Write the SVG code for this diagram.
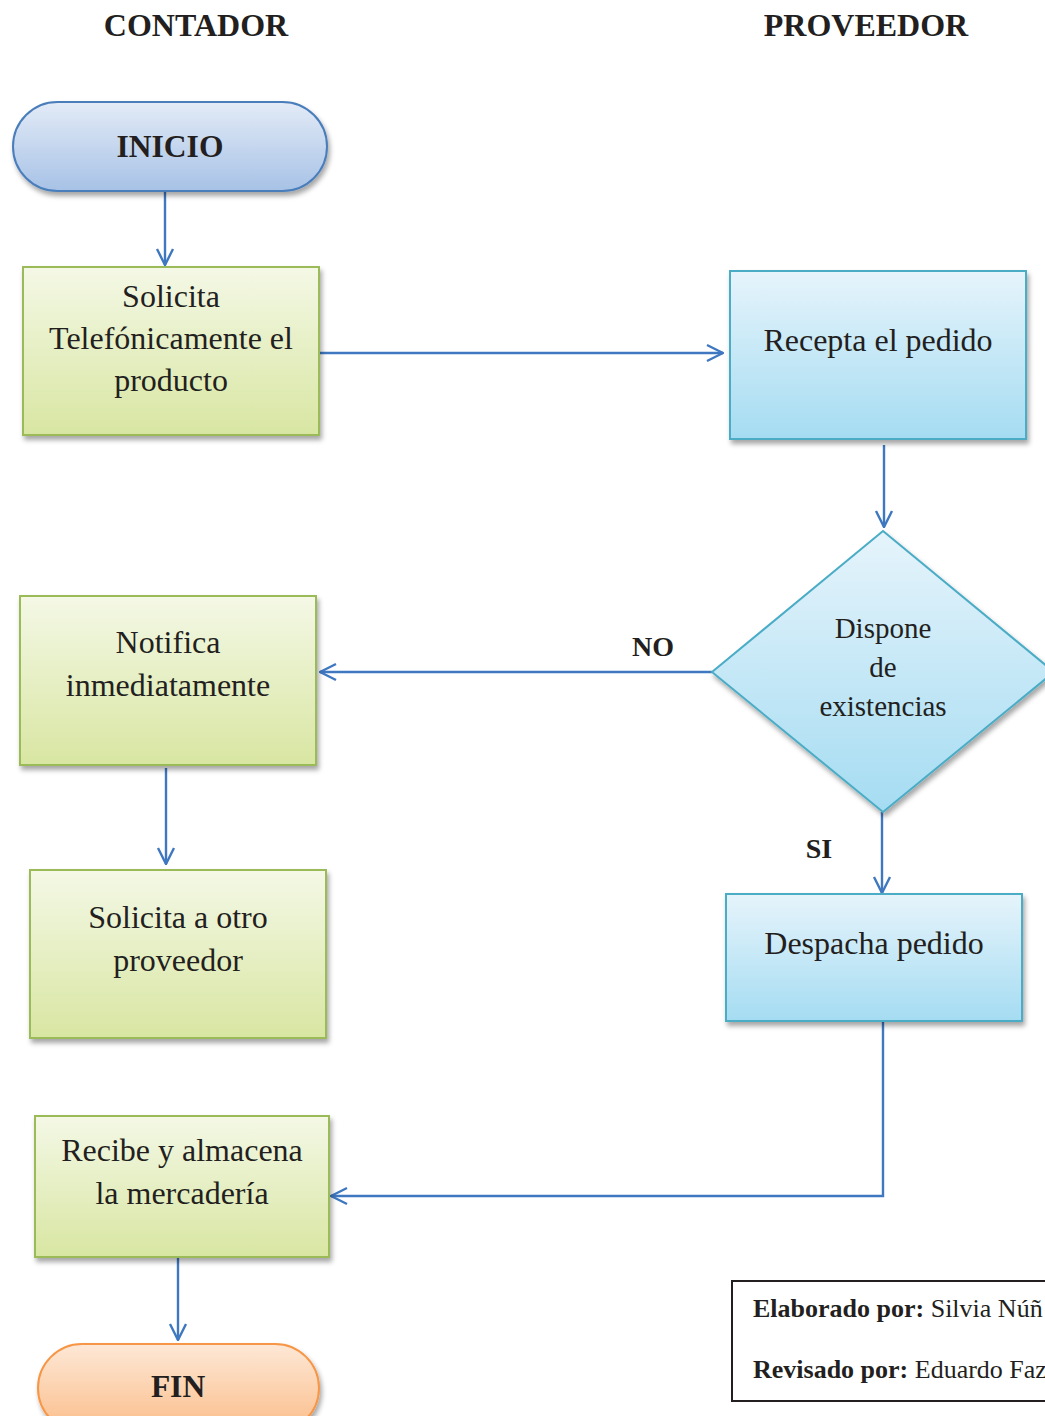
<svg xmlns="http://www.w3.org/2000/svg" width="1045" height="1416" viewBox="0 0 1045 1416">
  <defs>
    <linearGradient id="gBlueTerm" x1="0" y1="0" x2="0" y2="1">
      <stop offset="0" stop-color="#e3ebf7"/>
      <stop offset="1" stop-color="#a7c2e6"/>
    </linearGradient>
    <linearGradient id="gGreen" x1="0" y1="0" x2="0" y2="1">
      <stop offset="0" stop-color="#f4f8e6"/>
      <stop offset="1" stop-color="#d8e6a2"/>
    </linearGradient>
    <linearGradient id="gCyan" x1="0" y1="0" x2="0" y2="1">
      <stop offset="0" stop-color="#e6f4fb"/>
      <stop offset="1" stop-color="#a5dcf2"/>
    </linearGradient>
    <linearGradient id="gOrange" x1="0" y1="0" x2="0" y2="1">
      <stop offset="0" stop-color="#fde8d6"/>
      <stop offset="1" stop-color="#fbbd8a"/>
    </linearGradient>
    <filter id="shadow" x="-10%" y="-10%" width="125%" height="130%">
      <feDropShadow dx="2" dy="4" stdDeviation="2.5" flood-color="#000" flood-opacity="0.35"/>
    </filter>
    <marker id="open" viewBox="0 0 20 20" refX="19" refY="10" markerWidth="20" markerHeight="20" markerUnits="userSpaceOnUse" orient="auto">
      <path d="M3,2 L19,10 L3,18" fill="none" stroke="#3f78c0" stroke-width="2.4"/>
    </marker>
  </defs>
  <style>
    .t { font-family: "Liberation Serif", "Times New Roman", serif; fill: #231f20; text-anchor: middle; }
    .box { font-size: 32px; }
    .b { font-weight: bold; }
    .green { fill: url(#gGreen); stroke: #9bbb59; stroke-width: 2; filter: url(#shadow); }
    .cyan { fill: url(#gCyan); stroke: #4bacc6; stroke-width: 2; filter: url(#shadow); }
    .conn { fill: none; stroke: #3f78c0; stroke-width: 2.4; }
    .sig { font-family: "Liberation Serif", "Times New Roman", serif; font-size: 26px; fill: #231f20; }
  </style>

  <rect width="1045" height="1416" fill="#ffffff"/>

  <!-- lane headers -->
  <text class="t b" x="196" y="36" font-size="32">CONTADOR</text>
  <text class="t b" x="866" y="36" font-size="32">PROVEEDOR</text>

  <!-- connectors -->
  <g id="connectors">
    <path class="conn" d="M165,192 L165,265" marker-end="url(#open)"/>
    <path class="conn" d="M319,353 L723,353" marker-end="url(#open)"/>
    <path class="conn" d="M884,445 L884,527" marker-end="url(#open)"/>
    <path class="conn" d="M712,672 L320,672" marker-end="url(#open)"/>
    <path class="conn" d="M166,768 L166,864" marker-end="url(#open)"/>
    <path class="conn" d="M882,812 L882,893" marker-end="url(#open)"/>
    <path class="conn" d="M883,1022 L883,1196 L331,1196" marker-end="url(#open)"/>
    <path class="conn" d="M178,1258 L178,1340" marker-end="url(#open)"/>
    <text class="t b" x="653" y="656" font-size="28">NO</text>
    <text class="t b" x="819" y="858" font-size="28">SI</text>
  </g>

  <!-- start -->
  <g id="inicio">
    <rect x="13" y="102" width="314" height="89" rx="44.5" ry="44.5" fill="url(#gBlueTerm)" stroke="#4a7ebb" stroke-width="2" filter="url(#shadow)"/>
    <text class="t b" x="170" y="157" font-size="31.5">INICIO</text>
  </g>

  <g id="solicita-telefonicamente">
    <rect class="green" x="23" y="267" width="296" height="168"/>
    <text class="t box" x="171" y="307">Solicita</text>
    <text class="t box" x="171" y="349">Telefónicamente el</text>
    <text class="t box" x="171" y="391">producto</text>
  </g>

  <g id="recepta-pedido">
    <rect class="cyan" x="730" y="271" width="296" height="168"/>
    <text class="t box" x="878" y="351">Recepta el pedido</text>
  </g>

  <g id="dispone-existencias">
    <polygon class="cyan" points="883,531 1054,672 883,812 712,672"/>
    <text class="t" x="883" y="638" font-size="29">Dispone</text>
    <text class="t" x="883" y="677" font-size="29">de</text>
    <text class="t" x="883" y="716" font-size="29">existencias</text>
  </g>

  <g id="notifica">
    <rect class="green" x="20" y="596" width="296" height="169"/>
    <text class="t box" x="168" y="653">Notifica</text>
    <text class="t box" x="168" y="696">inmediatamente</text>
  </g>

  <g id="solicita-otro">
    <rect class="green" x="30" y="870" width="296" height="168"/>
    <text class="t box" x="178" y="928">Solicita a otro</text>
    <text class="t box" x="178" y="971">proveedor</text>
  </g>

  <g id="despacha-pedido">
    <rect class="cyan" x="726" y="894" width="296" height="127"/>
    <text class="t box" x="874" y="954">Despacha pedido</text>
  </g>

  <g id="recibe-almacena">
    <rect class="green" x="35" y="1116" width="294" height="141"/>
    <text class="t box" x="182" y="1161">Recibe y almacena</text>
    <text class="t box" x="182" y="1204">la mercadería</text>
  </g>

  <!-- end -->
  <g id="fin">
    <rect x="38" y="1344" width="281" height="88" rx="44" ry="44" fill="url(#gOrange)" stroke="#f79646" stroke-width="2" filter="url(#shadow)"/>
    <text class="t b" x="178" y="1397" font-size="31.5">FIN</text>
  </g>

  <!-- authorship box -->
  <g id="firmas">
    <rect x="732" y="1281" width="330" height="120" fill="#ffffff" stroke="#231f20" stroke-width="2"/>
    <text class="sig" x="753" y="1317"><tspan font-weight="bold">Elaborado por:</tspan> Silvia Núñ</text>
    <text class="sig" x="753" y="1378"><tspan font-weight="bold">Revisado por:</tspan> Eduardo Faz</text>
  </g>
</svg>
